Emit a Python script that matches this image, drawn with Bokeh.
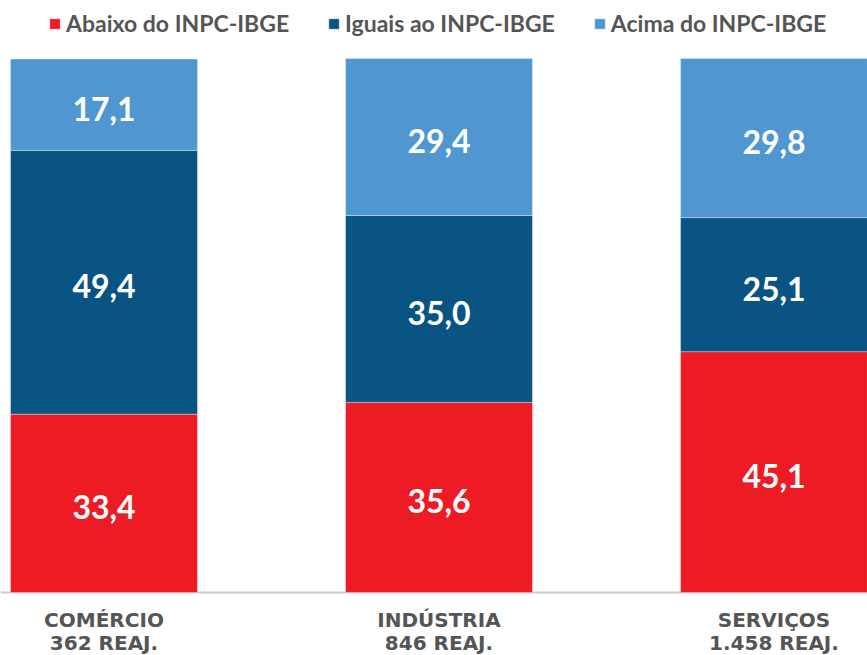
from bokeh.plotting import figure
from bokeh.models import ColumnDataSource, Range1d, Span, Legend
from bokeh.core.properties import value
from bokeh.embed import file_html
from bokeh.resources import INLINE

# ---- data ----
sectors = ["COMÉRCIO", "INDÚSTRIA", "SERVIÇOS"]
reaj = ["362 REAJ.", "846 REAJ.", "1.458 REAJ."]
series = ["Abaixo do INPC-IBGE", "Iguais ao INPC-IBGE", "Acima do INPC-IBGE"]
abaixo = [33.4, 35.6, 45.1]
iguais = [49.4, 35.0, 25.1]
acima = [17.1, 29.4, 29.8]
colors = ["#ED1C24", "#0A5484", "#5097D2"]

W, H = 867, 655
PX = 335.0      # pixels per category unit
PY = 5.34       # pixels per percent
xs = list(range(len(sectors)))
bar_w = 0.558

src = ColumnDataSource(dict(x=xs, a=abaixo, b=iguais, c=acima))

x0 = -(93.5 + 10) / PX
y_top = 100 + 58 / PY
y_bot = -(H - 592) / PY

p = figure(width=W, height=H, output_backend="svg", toolbar_location=None,
           x_range=Range1d(x0, x0 + W / PX),
           y_range=Range1d(y_bot, y_top),
           min_border=0, min_border_left=0, min_border_right=0,
           min_border_top=0, min_border_bottom=0)
p.outline_line_color = None
p.axis.visible = False
p.grid.visible = False
p.background_fill_color = "white"

renderers = p.vbar_stack(["a", "b", "c"], x="x", width=bar_w, source=src,
                         color=colors, line_color="white", line_alpha=0.35,
                         line_width=1)

p.add_layout(Span(location=0, dimension="width", line_color="#cccccc",
                  line_width=2, level="underlay"))

# value labels
lx, ly, lt = [], [], []
for i in xs:
    base = 0.0
    for v in (abaixo[i], iguais[i], acima[i]):
        lx.append(i)
        ly.append(base + v / 2.0)
        lt.append(f"{v:.1f}".replace(".", ","))
        base += v
p.text(x=lx, y=ly, text=lt, text_align="center", text_baseline="middle",
       y_offset=4, text_font=value("Lato"), text_font_style="bold",
       text_font_size="32px", text_color="white")

# category labels
p.text(x=xs, y=[-(619 - 592) / PY] * 3, text=sectors, text_align="center",
       text_baseline="middle", text_font=value("DejaVu Sans"),
       text_font_style="bold", text_font_size="20px", text_color="#555555")
p.text(x=xs, y=[-(642 - 592) / PY] * 3, text=reaj, text_align="center",
       text_baseline="middle", text_font=value("DejaVu Sans"),
       text_font_style="bold", text_font_size="20px", text_color="#555555")

legend = Legend(items=[(s, [r]) for s, r in zip(series, renderers)],
                orientation="horizontal", location=(48, 618),
                glyph_width=13, glyph_height=13, spacing=38,
                label_text_font="Lato", label_text_font_style="bold",
                label_text_font_size="23px", label_text_color="#555555",
                label_standoff=5, border_line_color=None,
                background_fill_alpha=0, padding=2, margin=0)
p.add_layout(legend)

open("out.html", "w").write(file_html(p, INLINE))
